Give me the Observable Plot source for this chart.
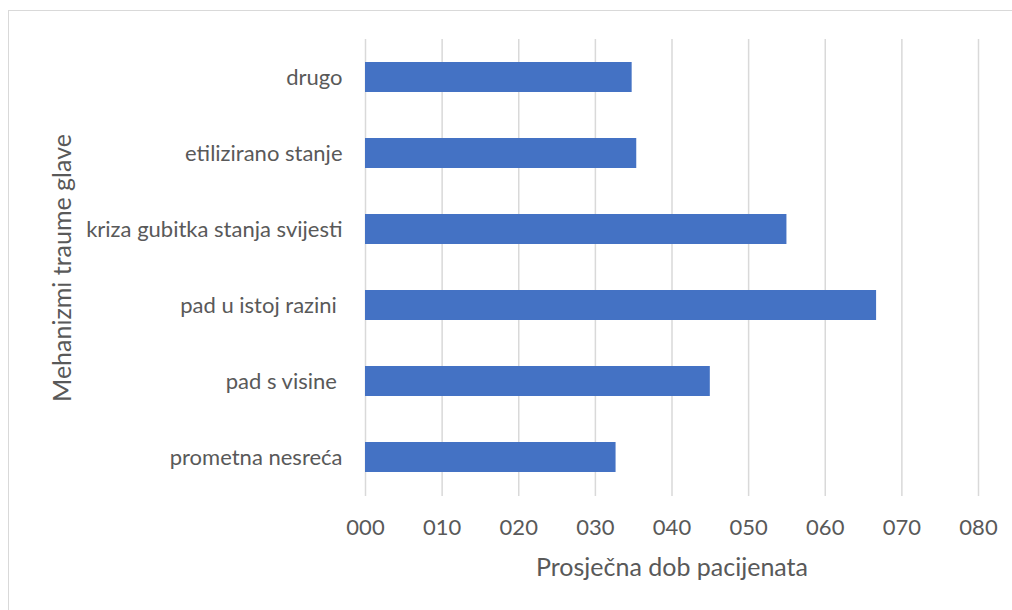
<!DOCTYPE html>
<html><head><meta charset="utf-8">
<script src="https://cdn.jsdelivr.net/npm/d3@7"></script>
<script src="https://cdn.jsdelivr.net/npm/@observablehq/plot@0.6"></script>
<style>
html,body{margin:0;padding:0;background:#fff;overflow:hidden;width:1012px;height:610px}
#frame{position:absolute;left:8px;top:10px;width:1010px;height:640px;border:1px solid #d9d9d9;box-sizing:border-box}
#chart{position:absolute;left:0;top:0}
</style></head><body><div id="frame"></div><div id="chart"></div>
<script>
const categories = ["drugo", "etilizirano stanje", "kriza gubitka stanja svijesti", "pad u istoj razini ", "pad s visine ", "prometna nesreća"];
const values = [34.8, 35.4, 55.0, 66.7, 45.0, 32.7];
const xTicks = [0, 10, 20, 30, 40, 50, 60, 70, 80];
const xTickLabels = ["000", "010", "020", "030", "040", "050", "060", "070", "080"];
const xLabel = "Prosječna dob pacijenata";
const yLabel = "Mehanizmi traume glave";

const data = categories.map((c, i) => ({c, v: values[i]}));

const plot = Plot.plot({
  width: 1012, height: 610,
  marginLeft: 365, marginRight: 34, marginTop: 39, marginBottom: 114,
  style: {fontFamily: "Lato", color: "#595959", background: "transparent", overflow: "visible"},
  x: {domain: [0, 80]},
  y: {domain: categories, paddingInner: 0.6, paddingOuter: 0.3},
  marks: [
    Plot.gridX(xTicks, {stroke: "#d9d9d9", strokeOpacity: 1, strokeWidth: 1.5}),
    Plot.barX(data, {x: "v", y: "c", fill: "#4472c4"}),
    Plot.axisX(xTicks, {tickSize: 0, tickPadding: 23, fontSize: 22,
      tickFormat: d => xTickLabels[xTicks.indexOf(d)], label: null}),
    Plot.axisY({tickSize: 0, tickPadding: 23, fontSize: 22,
      tickFormat: d => d.replace(/ $/, "\u00a0"), label: null}),
    Plot.text([xLabel], {text: d => d, frameAnchor: "bottom", dy: 71, lineAnchor: "middle",
      fontSize: 25, fill: "#595959"}),
    Plot.text([yLabel], {text: d => d, frameAnchor: "left", dx: -303, rotate: -90, lineAnchor: "middle",
      textAnchor: "middle", fontSize: 25, fill: "#595959"})
  ]
});
document.getElementById("chart").appendChild(plot);
</script></body></html>
